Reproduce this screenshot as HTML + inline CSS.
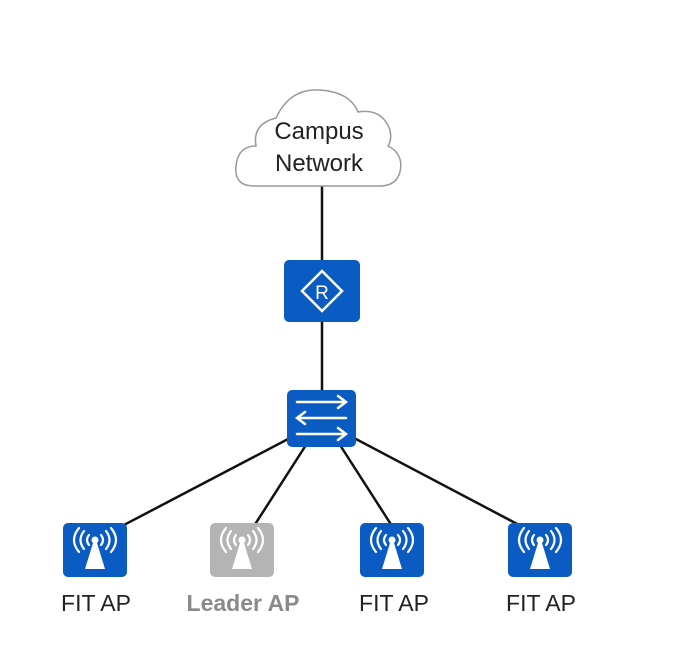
<!DOCTYPE html>
<html><head><style>html,body{margin:0;padding:0;background:#fff;width:699px;height:663px;overflow:hidden}</style></head>
<body>
<svg width="699" height="663" viewBox="0 0 699 663" xmlns="http://www.w3.org/2000/svg">
<defs>
<g id="ap">
<rect x="0" y="0" width="64" height="54" rx="5"/>
<g fill="none" stroke="#fff" stroke-width="2.2" stroke-linecap="round">
<path d="M26 12 Q22 17 26 22"/><path d="M38 12 Q42 17 38 22"/>
<path d="M21 8 Q14 17 21 26"/><path d="M43 8 Q50 17 43 26"/>
<path d="M16 5 Q6 17 16 29"/><path d="M48 5 Q58 17 48 29"/>
</g>
<circle cx="32" cy="17" r="3.5" fill="#fff"/>
<path d="M30 20 L34 20 L42 46 L22 46 Z" fill="#fff"/>
</g>
</defs>
<g stroke="#111" stroke-width="2.5" fill="none">
<line x1="322" y1="186" x2="322" y2="262"/>
<line x1="322" y1="320" x2="322" y2="392"/>
<line x1="290" y1="438" x2="122" y2="526"/>
<line x1="306" y1="445" x2="254" y2="526"/>
<line x1="340" y1="445" x2="392" y2="526"/>
<line x1="354" y1="438" x2="521" y2="526"/>
</g>
<path d="M252 186 Q234 185 236 166 Q238 146 256 146 Q252 124 276 118 Q290 88 320 90 Q350 92 358 112 Q382 108 390 130 Q392 140 388 146 Q404 154 400 172 Q396 186 380 186 Z" fill="#fff" stroke="#999" stroke-width="1.5"/>
<text x="319" y="139" font-family="Liberation Sans, sans-serif" font-size="24" fill="#222" text-anchor="middle">Campus</text>
<text x="319" y="171" font-family="Liberation Sans, sans-serif" font-size="24" fill="#222" text-anchor="middle">Network</text>
<rect x="284" y="260" width="76" height="62" rx="5" fill="#0a5cc2"/>
<path d="M322 271 L342 291 L322 311 L302 291 Z" fill="none" stroke="#fff" stroke-width="2.5"/>
<text x="322" y="299" font-family="Liberation Sans, sans-serif" font-size="19" fill="#fff" text-anchor="middle">R</text>
<rect x="287" y="390" width="69" height="57" rx="5" fill="#0a5cc2"/>
<g stroke="#fff" stroke-width="2.5" fill="none" stroke-linecap="round">
<path d="M297 402 H346 M338 396 L346 402 L338 408"/>
<path d="M346 418 H297 M305 412 L297 418 L305 424"/>
<path d="M297 434 H346 M338 428 L346 434 L338 440"/>
</g>
<use href="#ap" x="63" y="523" fill="#0a5cc2"/>
<use href="#ap" x="210" y="523" fill="#b4b4b4"/>
<use href="#ap" x="360" y="523" fill="#0a5cc2"/>
<use href="#ap" x="508" y="523" fill="#0a5cc2"/>
<g font-family="Liberation Sans, sans-serif" font-size="23" text-anchor="middle">
<text x="96" y="611" fill="#222">FIT AP</text>
<text x="243" y="611" fill="#8a8a8a" font-weight="bold">Leader AP</text>
<text x="394" y="611" fill="#222">FIT AP</text>
<text x="541" y="611" fill="#222">FIT AP</text>
</g>
</svg>
</body></html>
